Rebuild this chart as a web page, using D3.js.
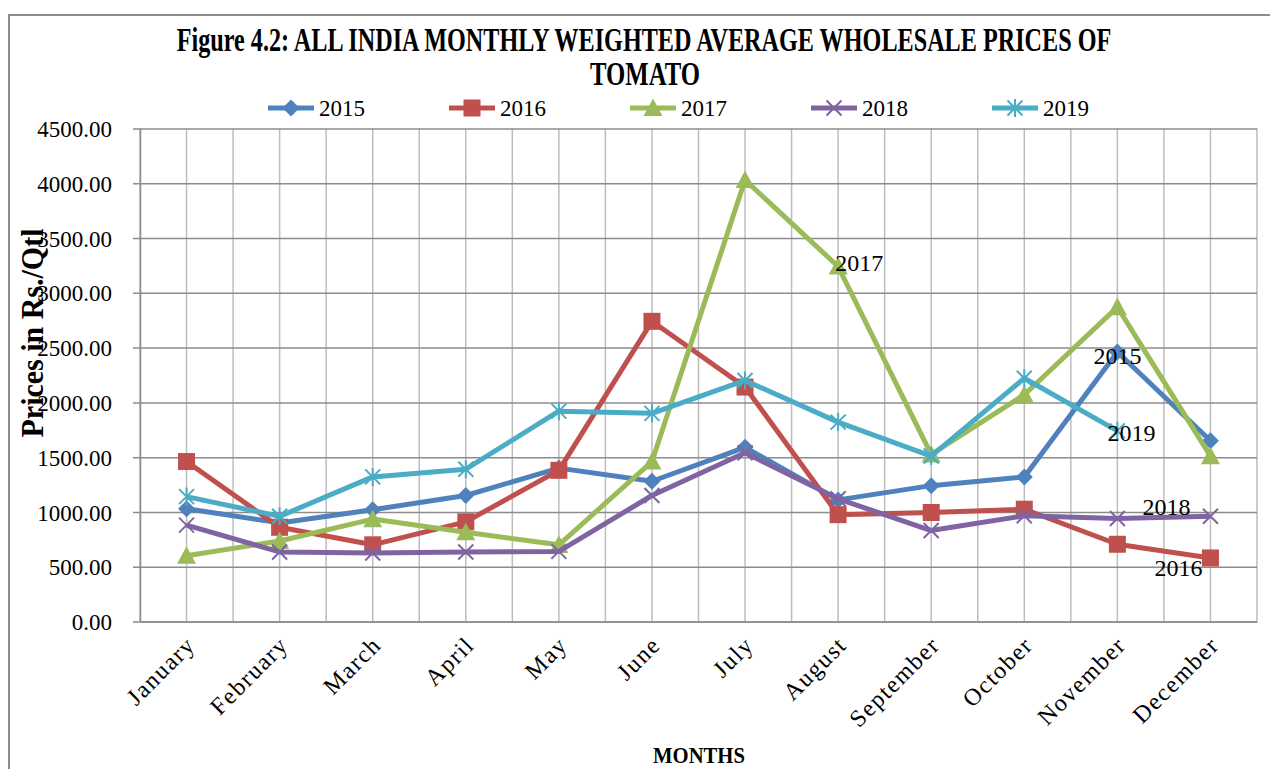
<!DOCTYPE html>
<html>
<head>
<meta charset="utf-8">
<script src="https://cdn.jsdelivr.net/npm/d3@7"></script>
<style>
  body { margin: 0; background: #fff; }
  svg { display: block; font-family: 'Liberation Serif', 'DejaVu Serif', serif; }
</style>
</head>
<body>
<svg id="chart" width="1270" height="769"></svg>
<script>
// months on the x axis
let months = ['January', 'February', 'March', 'April', 'May', 'June',
  'July', 'August', 'September', 'October', 'November', 'December']

// prices in Rs./Qtl
let y2015 = [1030, 900, 1020, 1150, 1400, 1280, 1590, 1110, 1240, 1320, 2460, 1650]
let y2016 = [1460, 860, 700, 910, 1380, 2740, 2140, 975, 995, 1025, 705, 580]
let y2017 = [600, 735, 935, 815, 700, 1460, 4030, 3240, 1525, 2070, 2870, 1510]
let y2018 = [880, 635, 625, 635, 640, 1150, 1540, 1120, 830, 965, 940, 960]
let y2019 = [1140, 960, 1320, 1390, 1920, 1900, 2200, 1820, 1510, 2220, 1740, null]

let years = ['2015', '2016', '2017', '2018', '2019']
let yTicks = [0, 500, 1000, 1500, 2000, 2500, 3000, 3500, 4000, 4500]

// which point of each series carries the series name
let labelMonth = ['November', 'December', 'August', 'December', 'November']

let series = [
  {name: years[0], values: y2015, color: '#4F81BD', marker: 'diamond'},
  {name: years[1], values: y2016, color: '#C0504D', marker: 'square'},
  {name: years[2], values: y2017, color: '#9BBB59', marker: 'triangle'},
  {name: years[3], values: y2018, color: '#8064A2', marker: 'x'},
  {name: years[4], values: y2019, color: '#4BACC6', marker: 'star'}
]
// label offsets from the point (dx, dy, anchor)
let labelStyle = [
  {dx: 0, dy: 4, anchor: 'middle'},
  {dx: -8, dy: 10, anchor: 'end'},
  {dx: -3, dy: -4, anchor: 'start'},
  {dx: -20, dy: -10, anchor: 'end'},
  {dx: 14, dy: 2, anchor: 'middle'}
]

let svg = d3.select('#chart')
let margin = {left: 140, right: 13, top: 128.5, bottom: 147.5}
let W = 1270, H = 769

let x = d3.scaleBand().domain(months)
  .range([margin.left, W - margin.right])
let y = d3.scaleLinear().domain([0, 4500])
  .range([H - margin.bottom, margin.top])

// outer chart border
svg.append('rect')
  .attr('x', 9).attr('y', 15)
  .attr('width', W + 10).attr('height', H + 10)
  .attr('fill', 'none').attr('stroke', '#8c8c8c').attr('stroke-width', 2)

// vertical gridlines: category boundaries and centres
let vLines = []
months.forEach(m => {
  vLines.push(x(m))
  vLines.push(x(m) + x.bandwidth() / 2)
})
vLines.push(x.range()[1])
svg.append('g').selectAll('line').data(vLines).join('line')
  .attr('x1', d => d).attr('x2', d => d)
  .attr('y1', y(4500)).attr('y2', y(0))
  .attr('stroke', '#bdbdbd').attr('stroke-width', 1.5)

// y axis with horizontal gridlines
let yAxis = svg.append('g')
  .attr('transform', `translate(${margin.left},0)`)
  .call(d3.axisLeft(y).tickValues(yTicks)
    .tickSize(-(W - margin.right - margin.left))
    .tickSizeOuter(0)
    .tickFormat(d3.format('.2f')))
yAxis.select('.domain').attr('stroke', '#8c8c8c').attr('stroke-width', 1.5)
yAxis.selectAll('.tick line').attr('stroke', '#8c8c8c').attr('stroke-width', 1.5)
  .attr('x1', -7)
yAxis.selectAll('.tick text')
  .attr('x', -28).attr('dy', '0.35em')
  .attr('font-size', 23).attr('fill', '#000')
  .attr('font-family', 'Liberation Serif')

// x axis labels
let xAxis = svg.append('g')
  .attr('transform', `translate(0,${y(0)})`)
  .call(d3.axisBottom(x).tickSize(0).tickSizeOuter(0))
xAxis.select('.domain').attr('stroke', '#8c8c8c').attr('stroke-width', 1.5)
xAxis.selectAll('.tick text')
  .attr('font-size', 24).attr('fill', '#000')
  .attr('font-family', 'Liberation Serif')
  .attr('letter-spacing', 1.5)
  .attr('text-anchor', 'end')
  .attr('transform', 'translate(4,19) rotate(-45)')
  .attr('dy', '0.35em').attr('y', 0)

// marker shapes
let markerPath = (type, s) => {
  let h = s / 2
  if (type === 'diamond') return `M0,${-h}L${h},0L0,${h}L${-h},0Z`
  if (type === 'square') return `M${-h},${-h}H${h}V${h}H${-h}Z`
  if (type === 'triangle') return `M0,${-h}L${h},${h * 0.85}L${-h},${h * 0.85}Z`
  if (type === 'x') return `M${-h},${-h}L${h},${h}M${h},${-h}L${-h},${h}`
  if (type === 'star') return `M${-h},${-h}L${h},${h}M${h},${-h}L${-h},${h}M0,${-h * 1.2}V${h * 1.2}`
}
let markerSize = {diamond: 17, square: 17, triangle: 19, x: 15, star: 15}
let drawMarker = (sel, s) => {
  let open = s.marker === 'x' || s.marker === 'star'
  sel.attr('d', markerPath(s.marker, markerSize[s.marker]))
    .attr('fill', open ? 'none' : s.color)
    .attr('stroke', s.color)
    .attr('stroke-width', open ? 2 : 0)
}

let line = d3.line()
  .defined(d => d.v != null)
  .x(d => x(d.m) + x.bandwidth() / 2)
  .y(d => y(d.v))

series.forEach(s => {
  let pts = months.map((m, i) => ({m, v: s.values[i]}))
  let g = svg.append('g')
  g.append('path').datum(pts)
    .attr('d', line)
    .attr('fill', 'none')
    .attr('stroke', s.color)
    .attr('stroke-width', 5)
    .attr('stroke-linejoin', 'round')
  g.selectAll('path.mk').data(pts.filter(d => d.v != null)).join('path')
    .attr('class', 'mk')
    .attr('transform', d => `translate(${x(d.m) + x.bandwidth() / 2},${y(d.v)})`)
    .call(sel => drawMarker(sel, s))
})

// series name labels at one point each
series.forEach((s, i) => {
  let m = labelMonth[i]
  let v = s.values[months.indexOf(m)]
  let st = labelStyle[i]
  svg.append('text')
    .attr('x', x(m) + x.bandwidth() / 2 + st.dx)
    .attr('y', y(v) + st.dy)
    .attr('dy', '0.35em')
    .attr('text-anchor', st.anchor)
    .attr('font-size', 24)
    .text(s.name)
})

// legend
let legend = svg.append('g').attr('transform', 'translate(268,108)')
series.forEach((s, i) => {
  let g = legend.append('g').attr('transform', `translate(${i * 181},0)`)
  g.append('line')
    .attr('x1', 0).attr('x2', 46)
    .attr('stroke', s.color).attr('stroke-width', 5)
  g.append('path')
    .attr('transform', 'translate(23,0)')
    .call(sel => drawMarker(sel, s))
  g.append('text')
    .attr('x', 51).attr('dy', '0.35em')
    .attr('font-size', 23)
    .text(s.name)
})

// bold condensed text: squeeze horizontally to a given width
let squeezed = (str, cx, cy, size, width, rot) => {
  let g = svg.append('g')
  let t = g.append('text')
    .attr('text-anchor', 'middle')
    .attr('font-weight', 'bold').attr('font-size', size)
    .text(str)
  let k = Math.min(1, width / t.node().getComputedTextLength())
  g.attr('transform', `translate(${cx},${cy}) rotate(${rot || 0}) scale(${k},1)`)
  return g
}

// title
squeezed('Figure 4.2: ALL INDIA MONTHLY WEIGHTED AVERAGE WHOLESALE PRICES OF', 644, 51, 33, 935)
squeezed('TOMATO', 645, 85, 33, 110)

// axis titles
squeezed('Prices in Rs./Qtl', 43, 333, 31, 209, -90)
squeezed('MONTHS', 699, 763, 23, 92)
</script>
</body>
</html>
